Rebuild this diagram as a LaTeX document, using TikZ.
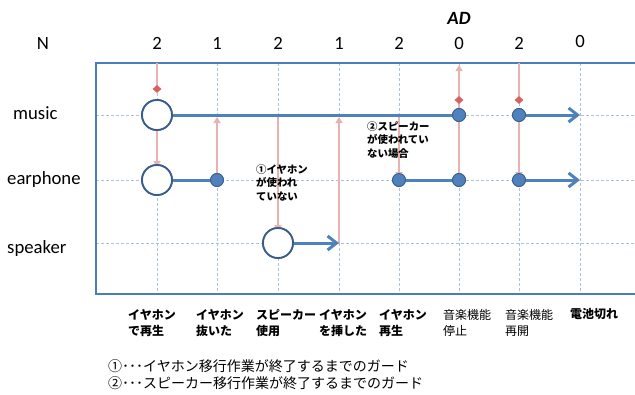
\documentclass[tikz,border=0pt]{standalone}
\usepackage{fontspec}
\setmainfont{Carlito}
\newfontfamily\jp{Noto Sans CJK JP}
\usetikzlibrary{arrows.meta,shapes.geometric}
\definecolor{blu}{HTML}{4F81BD}
\definecolor{dblu}{HTML}{385D8A}
\definecolor{pinkc}{HTML}{E8B2B1}
\definecolor{redc}{HTML}{D9605C}
\definecolor{gridc}{HTML}{A9C2E0}
\definecolor{framec}{HTML}{4A7EBB}
\tikzset{
  gridline/.style={draw=gridc,densely dashed,line width=0.7pt},
  frameline/.style={draw=framec,line width=2.2pt},
  bline/.style={draw=blu,line width=3pt},
  barrow/.style={bline,-{Straight Barb[length=9pt,width=14pt]}},
  parrow/.style={draw=pinkc,line width=2.4pt,-{Triangle[length=6pt,width=7pt]}},
  pline/.style={draw=pinkc,line width=2.4pt},
  bigc/.style={circle,draw=dblu,line width=1.8pt,fill=white,minimum size=30pt,inner sep=0pt},
  dot/.style={circle,fill=blu,draw=dblu,line width=0.8pt,minimum size=13pt,inner sep=0pt},
  dia/.style={diamond,fill=redc,minimum width=9pt,minimum height=8pt,inner sep=0pt},
  hdr/.style={font=\fontsize{18.7}{22}\selectfont,anchor=base,inner sep=0pt},
  rowlbl/.style={font=\fontsize{18.7}{22}\selectfont,anchor=mid west,inner sep=0pt},
  evt/.style={font=\jp\bfseries\fontsize{12}{16}\selectfont,anchor=north west,align=left,inner sep=0pt},
  evtr/.style={evt,font=\jp\fontsize{12}{16}\selectfont},
  ann/.style={font=\jp\bfseries\fontsize{10.4}{13.5}\selectfont,anchor=north west,align=left,inner sep=0pt},
  note/.style={font=\jp\fontsize{14}{17}\selectfont,anchor=west,inner sep=0pt},
}
\begin{document}
\begin{tikzpicture}[x=1pt,y=-1pt]
\useasboundingbox (0,0) rectangle (635,394);
% grid
\foreach \yy in {115,180,243} \draw[gridline] (96,\yy) -- (635,\yy);
\foreach \xx in {157,217,278,339,399,459,519,580} \draw[gridline] (\xx,63) -- (\xx,294);
% frame
\draw[frameline] (635,63) -- (96,63) -- (96,294) -- (635,294);
% header
\node[hdr] (hN) at (43,49) {N};
\node[hdr] (h1) at (157,49) {2};
\node[hdr] (h2) at (217,49) {1};
\node[hdr] (h3) at (278,49) {2};
\node[hdr] (h4) at (339,49) {1};
\node[hdr] (h5) at (399,49) {2};
\node[hdr] (h6) at (459,49) {0};
\node[hdr] (h7) at (519,49) {2};
\node[hdr] (h8) at (580,47) {0};
\node[hdr,font=\fontsize{18.7}{22}\selectfont\bfseries\itshape] (hAD) at (459,24) {AD};
% row labels
\node[rowlbl] (lm) at (13,117) {music};
\node[rowlbl] (le) at (7,182) {earphone};
\node[rowlbl] (ls) at (7,251) {speaker};
% coordinates
\coordinate (top1) at (157,63);
\coordinate (top6) at (459,65);
\coordinate (top7) at (519,63);
\coordinate (m217) at (217,117);
\coordinate (m278) at (278,115);
\coordinate (m339) at (339,117);
\coordinate (m399) at (399,115);
\coordinate (mend) at (580,115);
\coordinate (eend) at (580,180);
\coordinate (send) at (339,243);
% nodes (positions)
\node[bigc] (mc) at (157,115) {};
\node[bigc] (ec) at (157,180) {};
\node[bigc] (sc) at (278,243) {};
\node[dot] (ed1) at (217,180) {};
\node[dot] (ed2) at (399,180) {};
\node[dot] (ed3) at (459,180) {};
\node[dot] (ed4) at (519,180) {};
\node[dot] (md1) at (459,115) {};
\node[dot] (md2) at (519,115) {};
% pink connectors
\draw[pline] (top1) -- (157,90);
\draw[parrow] (mc.south) -- ([yshift=-3pt]ec.north);
\draw[parrow] (ed1) -- (m217);
\draw[parrow] (m278) -- ([yshift=-4pt]sc.north);
\draw[parrow] (send) -- (m339);
\draw[parrow] (m399) -- ([yshift=-5pt]ed2.north);
\draw[parrow] (ed3) -- (top6);
\draw[pline] (top7) -- (519,100);
\draw[parrow] (md2) -- ([yshift=-5pt]ed4.north);
\node[dia] (dia1) at (157,89) {};
\node[dia] (dia6) at (459,100) {};
\node[dia] (dia7) at (519,100) {};
% blue lines
\draw[bline] (mc) -- (md1);
\draw[bline] (ec) -- (ed1);
\draw[bline] (ed2) -- (ed3);
\draw[barrow] (sc) -- (send);
\draw[barrow] (md2) -- (mend);
\draw[barrow] (ed4) -- (eend);
% redraw nodes on top
\node[bigc] at (mc) {};
\node[bigc] at (ec) {};
\node[bigc] at (sc) {};
\node[dot] at (ed1) {};
\node[dot] at (ed2) {};
\node[dot] at (ed3) {};
\node[dot] at (ed4) {};
\node[dot] at (md1) {};
\node[dot] at (md2) {};
% annotations
\node[ann] (a1) at (256,164) {①イヤホン\\が使われ\\ていない};
\node[ann] (a2) at (367,121) {②スピーカー\\が使われてい\\ない場合};
% event labels
\node[evt] (e1) at (128,309) {イヤホン\\で再生};
\node[evt] (e2) at (196,309) {イヤホン\\抜いた};
\node[evt] (e3) at (256,309) {スピーカー\\使用};
\node[evt] (e4) at (319,309) {イヤホン\\を挿した};
\node[evt] (e5) at (379,309) {イヤホン\\再生};
\node[evtr] (e6) at (443,309) {音楽機能\\停止};
\node[evtr] (e7) at (505,309) {音楽機能\\再開};
\node[evt] (e8) at (570,308) {電池切れ};
% notes
\node[note] (n1) at (108,366) {①･･･イヤホン移行作業が終了するまでのガード};
\node[note] (n2) at (108,383) {②･･･スピーカー移行作業が終了するまでのガード};
\end{tikzpicture}
\end{document}
